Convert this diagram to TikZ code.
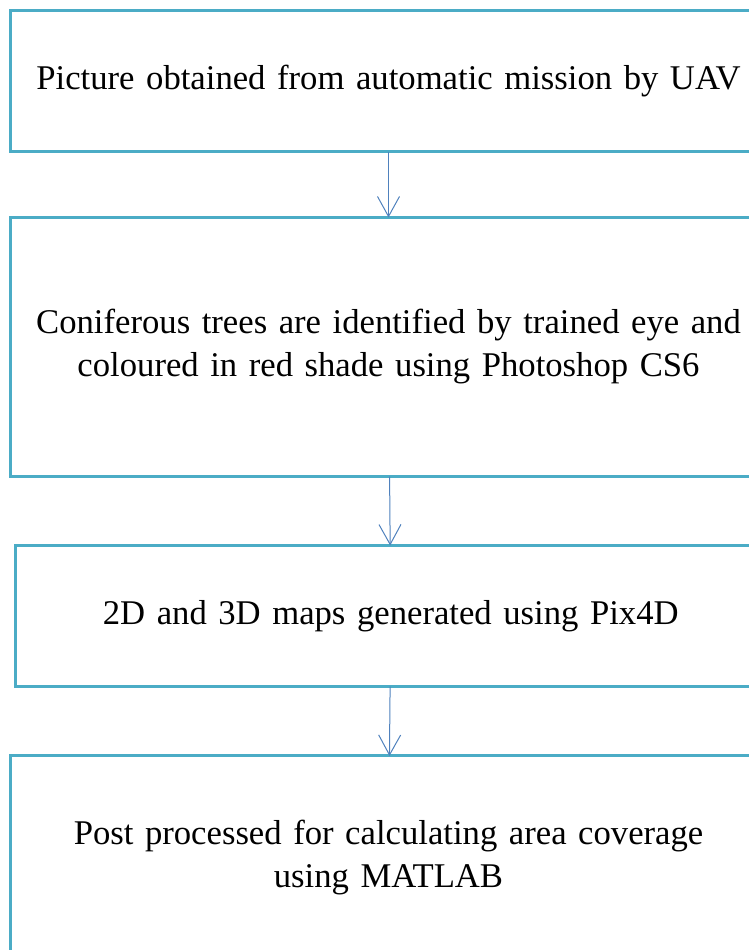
\documentclass[tikz,border=0pt]{standalone}
\usepackage{fontspec}
\setmainfont{Liberation Serif}
\usepackage{tikz}
\usetikzlibrary{arrows.meta, positioning}
\definecolor{boxblue}{HTML}{4BACC6}
\definecolor{arrowblue}{HTML}{4F81BD}
\tikzstyle{stepbox} = [rectangle, draw=boxblue, line width=2.25pt, minimum width=567pt,
    text width=560pt, align=center, inner sep=0pt, outer sep=0pt,
    font=\fontsize{26}{32.25}\selectfont]
\tikzstyle{arrow}   = [draw=arrowblue, line width=0.75pt, -{Straight Barb[length=15pt, width=16.5pt]}]
\begin{document}
\begin{tikzpicture}
    \useasboundingbox (0,0) rectangle (561.75pt,-712.5pt);
    \clip (0,0) rectangle (561.75pt,-712.5pt);
    \node (pic)  [stepbox, minimum height=105.75pt, anchor=north west] at (7.875pt,-7.875pt)
        {Picture obtained from automatic mission by UAV};
    \node (tree) [stepbox, minimum height=194.25pt, below=49.5pt of pic]
        {Coniferous trees are identified by trained eye and\\ coloured in red shade using Photoshop CS6};
    \node (map)  [stepbox, minimum width=563.6pt, minimum height=105.75pt, below=51.75pt of tree, xshift=1.69pt]
        {2D and 3D maps generated using Pix4D};
    \node (post) [stepbox, minimum height=153pt, below=52.1pt of map, xshift=-1.69pt]
        {Post processed for calculating area coverage\\ using MATLAB};

    \draw [arrow] (pic)  -- (tree);
    \draw [arrow] (tree) -- (map);
    \draw [arrow] (map)  -- (post);
\end{tikzpicture}
\end{document}
